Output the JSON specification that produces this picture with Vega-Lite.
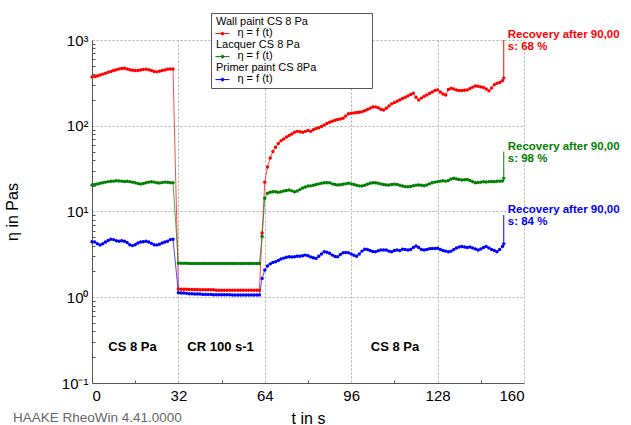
{
  "$schema": "https://vega.github.io/schema/vega-lite/v6.json",
  "width": 432,
  "height": 343,
  "autosize": {"type": "none"},
  "padding": {"left": 92, "top": 40, "right": 107, "bottom": 42},
  "background": "white",
  "config": {
    "font": "Liberation Sans",
    "view": {"stroke": null},
    "style": {"guide-label": {"lineHeight": 11}},
    "axis": {
      "labelFont": "Liberation Sans",
      "titleFont": "Liberation Sans",
      "labelColor": "#000",
      "titleColor": "#000",
      "domainColor": "#555",
      "gridColor": "#b0b0b0",
      "gridDash": [2, 2],
      "gridWidth": 1
    }
  },
  "title": {
    "text": "HAAKE RheoWin 4.41.0000",
    "orient": "bottom",
    "anchor": "start",
    "frame": "group",
    "font": "Liberation Sans",
    "fontSize": 13.5,
    "fontWeight": "normal",
    "color": "#666",
    "dx": -79,
    "offset": -15
  },
  "datasets": {
    "d": [
      {"t":0,"Wall":370,"Lacquer":20.4,"Primer":4.45},
      {"t":1,"Wall":375,"Lacquer":20.6,"Primer":4.4},
      {"t":2,"Wall":380,"Lacquer":20.9,"Primer":4.2},
      {"t":3,"Wall":390,"Lacquer":21.3,"Primer":4.07},
      {"t":4,"Wall":400,"Lacquer":21.7,"Primer":4.2},
      {"t":5,"Wall":410,"Lacquer":22.0,"Primer":4.4},
      {"t":6,"Wall":420,"Lacquer":22.3,"Primer":4.6},
      {"t":7,"Wall":430,"Lacquer":22.5,"Primer":4.74},
      {"t":8,"Wall":440,"Lacquer":22.6,"Primer":4.7},
      {"t":9,"Wall":450,"Lacquer":22.8,"Primer":4.55},
      {"t":10,"Wall":460,"Lacquer":22.7,"Primer":4.5},
      {"t":11,"Wall":465,"Lacquer":22.6,"Primer":4.55},
      {"t":12,"Wall":468,"Lacquer":22.4,"Primer":4.5},
      {"t":13,"Wall":460,"Lacquer":22.5,"Primer":4.35},
      {"t":14,"Wall":450,"Lacquer":22.3,"Primer":4.1},
      {"t":15,"Wall":445,"Lacquer":22.0,"Primer":4.0},
      {"t":16,"Wall":440,"Lacquer":21.6,"Primer":4.1},
      {"t":17,"Wall":442,"Lacquer":21.2,"Primer":4.3},
      {"t":18,"Wall":448,"Lacquer":20.9,"Primer":4.4},
      {"t":19,"Wall":452,"Lacquer":21.2,"Primer":4.45},
      {"t":20,"Wall":455,"Lacquer":21.6,"Primer":4.5},
      {"t":21,"Wall":450,"Lacquer":22.0,"Primer":4.4},
      {"t":22,"Wall":440,"Lacquer":22.2,"Primer":4.25},
      {"t":23,"Wall":430,"Lacquer":22.0,"Primer":4.1},
      {"t":24,"Wall":425,"Lacquer":21.6,"Primer":4.07},
      {"t":25,"Wall":432,"Lacquer":21.5,"Primer":4.15},
      {"t":26,"Wall":440,"Lacquer":21.8,"Primer":4.3},
      {"t":27,"Wall":448,"Lacquer":22.0,"Primer":4.4},
      {"t":28,"Wall":455,"Lacquer":21.9,"Primer":4.5},
      {"t":29,"Wall":460,"Lacquer":21.7,"Primer":4.7},
      {"t":30,"Wall":458,"Lacquer":21.7,"Primer":4.75},
      {"t":32,"Wall":1.25,"Lacquer":2.5,"Primer":1.13},
      {"t":33,"Wall":1.24,"Lacquer":2.49,"Primer":1.12},
      {"t":34,"Wall":1.24,"Lacquer":2.49,"Primer":1.12},
      {"t":35,"Wall":1.24,"Lacquer":2.49,"Primer":1.11},
      {"t":36,"Wall":1.23,"Lacquer":2.48,"Primer":1.1},
      {"t":37,"Wall":1.23,"Lacquer":2.48,"Primer":1.1},
      {"t":38,"Wall":1.23,"Lacquer":2.48,"Primer":1.09},
      {"t":39,"Wall":1.23,"Lacquer":2.48,"Primer":1.09},
      {"t":40,"Wall":1.22,"Lacquer":2.48,"Primer":1.09},
      {"t":41,"Wall":1.22,"Lacquer":2.48,"Primer":1.08},
      {"t":42,"Wall":1.22,"Lacquer":2.48,"Primer":1.08},
      {"t":43,"Wall":1.22,"Lacquer":2.48,"Primer":1.08},
      {"t":44,"Wall":1.22,"Lacquer":2.48,"Primer":1.08},
      {"t":45,"Wall":1.22,"Lacquer":2.48,"Primer":1.07},
      {"t":46,"Wall":1.21,"Lacquer":2.48,"Primer":1.07},
      {"t":47,"Wall":1.21,"Lacquer":2.48,"Primer":1.07},
      {"t":48,"Wall":1.21,"Lacquer":2.48,"Primer":1.07},
      {"t":49,"Wall":1.21,"Lacquer":2.48,"Primer":1.07},
      {"t":50,"Wall":1.21,"Lacquer":2.48,"Primer":1.07},
      {"t":51,"Wall":1.21,"Lacquer":2.48,"Primer":1.07},
      {"t":52,"Wall":1.21,"Lacquer":2.48,"Primer":1.06},
      {"t":53,"Wall":1.21,"Lacquer":2.48,"Primer":1.06},
      {"t":54,"Wall":1.21,"Lacquer":2.48,"Primer":1.06},
      {"t":55,"Wall":1.21,"Lacquer":2.48,"Primer":1.06},
      {"t":56,"Wall":1.21,"Lacquer":2.48,"Primer":1.06},
      {"t":57,"Wall":1.21,"Lacquer":2.48,"Primer":1.06},
      {"t":58,"Wall":1.21,"Lacquer":2.48,"Primer":1.06},
      {"t":59,"Wall":1.21,"Lacquer":2.48,"Primer":1.06},
      {"t":60,"Wall":1.21,"Lacquer":2.48,"Primer":1.06},
      {"t":61,"Wall":1.21,"Lacquer":2.48,"Primer":1.06},
      {"t":62,"Wall":1.21,"Lacquer":2.48,"Primer":1.06},
      {"t":63,"Wall":5.6,"Lacquer":5.1,"Primer":1.66},
      {"t":64,"Wall":22,"Lacquer":14.3,"Primer":2.08},
      {"t":65,"Wall":33,"Lacquer":16.3,"Primer":2.31},
      {"t":66,"Wall":42,"Lacquer":16.8,"Primer":2.45},
      {"t":67,"Wall":50,"Lacquer":17.0,"Primer":2.55},
      {"t":68,"Wall":56,"Lacquer":17.0,"Primer":2.6},
      {"t":69,"Wall":62,"Lacquer":16.8,"Primer":2.68},
      {"t":70,"Wall":67,"Lacquer":17.0,"Primer":2.8},
      {"t":71,"Wall":70,"Lacquer":17.3,"Primer":2.86},
      {"t":72,"Wall":74,"Lacquer":17.6,"Primer":2.92},
      {"t":73,"Wall":77,"Lacquer":17.8,"Primer":2.96},
      {"t":74,"Wall":80,"Lacquer":17.4,"Primer":2.95},
      {"t":75,"Wall":84,"Lacquer":17.0,"Primer":2.97},
      {"t":76,"Wall":86,"Lacquer":17.3,"Primer":3.0},
      {"t":77,"Wall":85,"Lacquer":18.0,"Primer":3.0},
      {"t":78,"Wall":84,"Lacquer":18.8,"Primer":3.05},
      {"t":79,"Wall":86,"Lacquer":19.3,"Primer":3.1},
      {"t":80,"Wall":88,"Lacquer":19.8,"Primer":3.05},
      {"t":81,"Wall":86,"Lacquer":19.9,"Primer":2.95},
      {"t":82,"Wall":90,"Lacquer":20.2,"Primer":2.88},
      {"t":83,"Wall":93,"Lacquer":20.6,"Primer":2.84},
      {"t":84,"Wall":95,"Lacquer":21.0,"Primer":3.0},
      {"t":85,"Wall":98,"Lacquer":21.4,"Primer":3.2},
      {"t":86,"Wall":102,"Lacquer":21.7,"Primer":3.4},
      {"t":87,"Wall":106,"Lacquer":21.7,"Primer":3.35},
      {"t":88,"Wall":110,"Lacquer":21.6,"Primer":3.25},
      {"t":89,"Wall":113,"Lacquer":21.0,"Primer":3.1},
      {"t":90,"Wall":116,"Lacquer":20.6,"Primer":2.98},
      {"t":91,"Wall":118,"Lacquer":20.4,"Primer":2.96},
      {"t":92,"Wall":120,"Lacquer":20.5,"Primer":3.15},
      {"t":93,"Wall":122,"Lacquer":20.8,"Primer":3.3},
      {"t":94,"Wall":130,"Lacquer":21.1,"Primer":3.32},
      {"t":95,"Wall":138,"Lacquer":21.3,"Primer":3.3},
      {"t":96,"Wall":140,"Lacquer":21.0,"Primer":3.2},
      {"t":97,"Wall":141,"Lacquer":20.6,"Primer":3.08},
      {"t":98,"Wall":143,"Lacquer":20.2,"Primer":3.0},
      {"t":99,"Wall":144,"Lacquer":19.9,"Primer":3.2},
      {"t":100,"Wall":146,"Lacquer":19.8,"Primer":3.45},
      {"t":101,"Wall":150,"Lacquer":20.2,"Primer":3.62},
      {"t":102,"Wall":155,"Lacquer":20.8,"Primer":3.6},
      {"t":103,"Wall":160,"Lacquer":21.3,"Primer":3.5},
      {"t":104,"Wall":165,"Lacquer":21.6,"Primer":3.42},
      {"t":105,"Wall":166,"Lacquer":21.7,"Primer":3.4},
      {"t":106,"Wall":162,"Lacquer":21.3,"Primer":3.48},
      {"t":107,"Wall":156,"Lacquer":20.9,"Primer":3.55},
      {"t":108,"Wall":153,"Lacquer":20.6,"Primer":3.55},
      {"t":109,"Wall":160,"Lacquer":20.4,"Primer":3.55},
      {"t":110,"Wall":170,"Lacquer":20.4,"Primer":3.45},
      {"t":111,"Wall":180,"Lacquer":20.6,"Primer":3.4},
      {"t":112,"Wall":186,"Lacquer":20.8,"Primer":3.5},
      {"t":113,"Wall":193,"Lacquer":20.6,"Primer":3.55},
      {"t":114,"Wall":200,"Lacquer":20.2,"Primer":3.5},
      {"t":115,"Wall":208,"Lacquer":19.8,"Primer":3.62},
      {"t":116,"Wall":215,"Lacquer":19.5,"Primer":3.6},
      {"t":117,"Wall":222,"Lacquer":19.4,"Primer":3.55},
      {"t":118,"Wall":232,"Lacquer":19.6,"Primer":3.6},
      {"t":119,"Wall":239,"Lacquer":20.0,"Primer":3.8},
      {"t":120,"Wall":215,"Lacquer":20.3,"Primer":3.96},
      {"t":121,"Wall":200,"Lacquer":20.4,"Primer":3.8},
      {"t":122,"Wall":210,"Lacquer":20.2,"Primer":3.6},
      {"t":123,"Wall":220,"Lacquer":20.0,"Primer":3.55},
      {"t":124,"Wall":229,"Lacquer":20.4,"Primer":3.6},
      {"t":125,"Wall":238,"Lacquer":21.0,"Primer":3.68},
      {"t":126,"Wall":248,"Lacquer":21.6,"Primer":3.7},
      {"t":127,"Wall":258,"Lacquer":22.0,"Primer":3.7},
      {"t":128,"Wall":262,"Lacquer":22.3,"Primer":3.72},
      {"t":129,"Wall":248,"Lacquer":22.6,"Primer":3.6},
      {"t":130,"Wall":235,"Lacquer":22.9,"Primer":3.5},
      {"t":131,"Wall":229,"Lacquer":22.6,"Primer":3.45},
      {"t":132,"Wall":265,"Lacquer":23.0,"Primer":3.4},
      {"t":133,"Wall":273,"Lacquer":24.0,"Primer":3.45},
      {"t":134,"Wall":268,"Lacquer":24.4,"Primer":3.6},
      {"t":135,"Wall":261,"Lacquer":24.0,"Primer":3.75},
      {"t":136,"Wall":258,"Lacquer":23.6,"Primer":3.85},
      {"t":137,"Wall":258,"Lacquer":23.3,"Primer":3.9},
      {"t":138,"Wall":260,"Lacquer":23.5,"Primer":3.85},
      {"t":139,"Wall":262,"Lacquer":23.6,"Primer":3.8},
      {"t":140,"Wall":272,"Lacquer":23.0,"Primer":3.85},
      {"t":141,"Wall":282,"Lacquer":22.2,"Primer":3.75},
      {"t":142,"Wall":290,"Lacquer":21.7,"Primer":3.65},
      {"t":143,"Wall":288,"Lacquer":21.8,"Primer":3.55},
      {"t":144,"Wall":284,"Lacquer":22.0,"Primer":3.65},
      {"t":145,"Wall":280,"Lacquer":22.2,"Primer":3.8},
      {"t":146,"Wall":268,"Lacquer":22.1,"Primer":3.9},
      {"t":147,"Wall":256,"Lacquer":22.3,"Primer":3.75},
      {"t":148,"Wall":275,"Lacquer":22.4,"Primer":3.6},
      {"t":149,"Wall":300,"Lacquer":22.3,"Primer":3.5},
      {"t":150,"Wall":313,"Lacquer":22.5,"Primer":3.4},
      {"t":151,"Wall":320,"Lacquer":22.6,"Primer":3.6},
      {"t":152,"Wall":335,"Lacquer":22.7,"Primer":3.9}
    ],
    "ann": [
      {"s":"Wall","t":152.5,"top":1000,"end":335,"l1":"Recovery after 90,00","l2":"s: 68 %"},
      {"s":"Lacquer","t":152.5,"top":50,"end":22.7,"l1":"Recovery after 90,00","l2":"s: 98 %"},
      {"s":"Primer","t":152.5,"top":9.1,"end":3.9,"l1":"Recovery after 90,00","l2":"s: 84 %"}
    ],
    "reg": [
      {"t":15,"v":0.265,"txt":"CS 8 Pa"},
      {"t":47.6,"v":0.265,"txt":"CR 100 s-1"},
      {"t":112.2,"v":0.265,"txt":"CS 8 Pa"}
    ]
  },
  "layer": [
    {
      "data": {"name": "reg"},
      "mark": {"type": "point", "opacity": 0},
      "encoding": {
        "x": {"field": "t", "type": "quantitative",
          "axis": {"orient": "bottom", "values": [16, 48, 80, 112, 144], "labels": false, "domain": false, "grid": false, "ticks": true, "tickSize": -3, "tickColor": "#555", "title": null}},
        "y": {"field": "v", "type": "quantitative",
          "axis": {"orient": "left", "values": [0.2,0.3,0.4,0.5,0.6,0.7,0.8,0.9,2,3,4,5,6,7,8,9,20,30,40,50,60,70,80,90,200,300,400,500,600,700,800,900], "labels": false, "domain": false, "grid": false, "ticks": true, "tickSize": -3, "tickColor": "#555", "title": null}}
      }
    },
    {
      "data": {"name": "d"},
      "transform": [{"fold": ["Wall", "Lacquer", "Primer"], "as": ["s", "v"]}],
      "mark": {"type": "line", "strokeWidth": 1, "strokeOpacity": 0.7, "point": {"filled": true, "size": 12, "opacity": 1}},
      "encoding": {
        "x": {"field": "t", "type": "quantitative",
          "scale": {"domain": [0, 160], "nice": false, "zero": false},
          "axis": {"orient": "bottom", "values": [0, 32, 64, 96, 128, 160], "ticks": false, "labelFontSize": 15, "labelPadding": 5, "title": "t in s", "titleFontSize": 16, "titleFontWeight": "normal", "titleBaseline": "middle", "titleY": 35, "grid": true, "domainWidth": 1}},
        "y": {"field": "v", "type": "quantitative",
          "scale": {"type": "log", "domain": [0.1, 1000], "nice": false},
          "axis": {"orient": "left", "values": [0.1, 1, 10, 100, 1000], "ticks": false, "labelFontSize": 15, "labelPadding": 4,
            "labelExpr": "datum.value < 0.5 ? '10⁻¹' : datum.value < 5 ? '10⁰' : datum.value < 50 ? '10¹' : datum.value < 500 ? '10²' : '10³'",
            "title": "η in Pas", "titleFontSize": 16, "titleFontWeight": "normal", "titleX": -72, "grid": true, "domainWidth": 1}},
        "color": {"field": "s", "type": "nominal",
          "scale": {"domain": ["Wall", "Lacquer", "Primer"], "range": ["#ff0000", "#008000", "#0000ff"]},
          "legend": {
            "orient": "none", "legendX": 119, "legendY": -27,
            "title": null,
            "labelExpr": "datum.value == 'Wall' ? ['Wall paint CS 8 Pa', '\u200b\u00a0\u00a0\u00a0\u00a0\u00a0\u00a0\u00a0η = f (t)'] : datum.value == 'Lacquer' ? ['Lacquer CS 8 Pa', '\u200b\u00a0\u00a0\u00a0\u00a0\u00a0\u00a0\u00a0η = f (t)'] : ['Primer paint CS 8Pa\u00a0\u00a0\u00a0\u00a0\u00a0\u00a0\u00a0\u00a0\u00a0\u00a0\u00a0\u00a0\u00a0\u00a0\u2800', '\u200b\u00a0\u00a0\u00a0\u00a0\u00a0\u00a0\u00a0η = f (t)']",
            "labelFont": "Liberation Sans",
            "labelFontSize": 11,
            "labelColor": "#000",
            "labelBaseline": "alphabetic",
            "labelOffset": -14,
            "labelLimit": 300,
            "symbolType": "M-1,1.3H1M-0.2,1.3A0.2,0.2 0 1,0 0.2,1.3A0.2,0.2 0 1,0 -0.2,1.3Z",
            "symbolSize": 196,
            "symbolStrokeWidth": 1,
            "rowPadding": 0,
            "padding": 4,
            "fillColor": "#fff",
            "strokeColor": "#555"
          }}
      }
    },
    {
      "data": {"name": "ann"},
      "mark": {"type": "rule", "strokeWidth": 1},
      "encoding": {
        "x": {"field": "t", "type": "quantitative", "axis": null},
        "y": {"field": "top", "type": "quantitative", "axis": null},
        "y2": {"field": "end"},
        "color": {"field": "s", "type": "nominal", "legend": null}
      }
    },
    {
      "data": {"name": "ann"},
      "mark": {"type": "point", "shape": "triangle-down", "filled": true, "size": 18, "opacity": 1, "yOffset": -2},
      "encoding": {
        "x": {"field": "t", "type": "quantitative", "axis": null},
        "y": {"field": "end", "type": "quantitative", "axis": null},
        "color": {"field": "s", "type": "nominal", "legend": null}
      }
    },
    {
      "data": {"name": "ann"},
      "mark": {"type": "text", "align": "left", "baseline": "middle", "dx": 4, "dy": -5, "fontSize": 11.5, "fontWeight": "bold"},
      "encoding": {
        "x": {"field": "t", "type": "quantitative", "axis": null},
        "y": {"field": "top", "type": "quantitative", "axis": null},
        "text": {"field": "l1"},
        "color": {"field": "s", "type": "nominal", "legend": null}
      }
    },
    {
      "data": {"name": "ann"},
      "mark": {"type": "text", "align": "left", "baseline": "middle", "dx": 4, "dy": 7, "fontSize": 11.5, "fontWeight": "bold"},
      "encoding": {
        "x": {"field": "t", "type": "quantitative", "axis": null},
        "y": {"field": "top", "type": "quantitative", "axis": null},
        "text": {"field": "l2"},
        "color": {"field": "s", "type": "nominal", "legend": null}
      }
    },
    {
      "data": {"name": "reg"},
      "mark": {"type": "text", "align": "center", "baseline": "middle", "fontSize": 13, "fontWeight": "bold", "color": "#000"},
      "encoding": {
        "x": {"field": "t", "type": "quantitative", "axis": null},
        "y": {"field": "v", "type": "quantitative", "axis": null},
        "text": {"field": "txt"}
      }
    }
  ],
  "resolve": {"axis": {"x": "independent", "y": "independent"}}
}
